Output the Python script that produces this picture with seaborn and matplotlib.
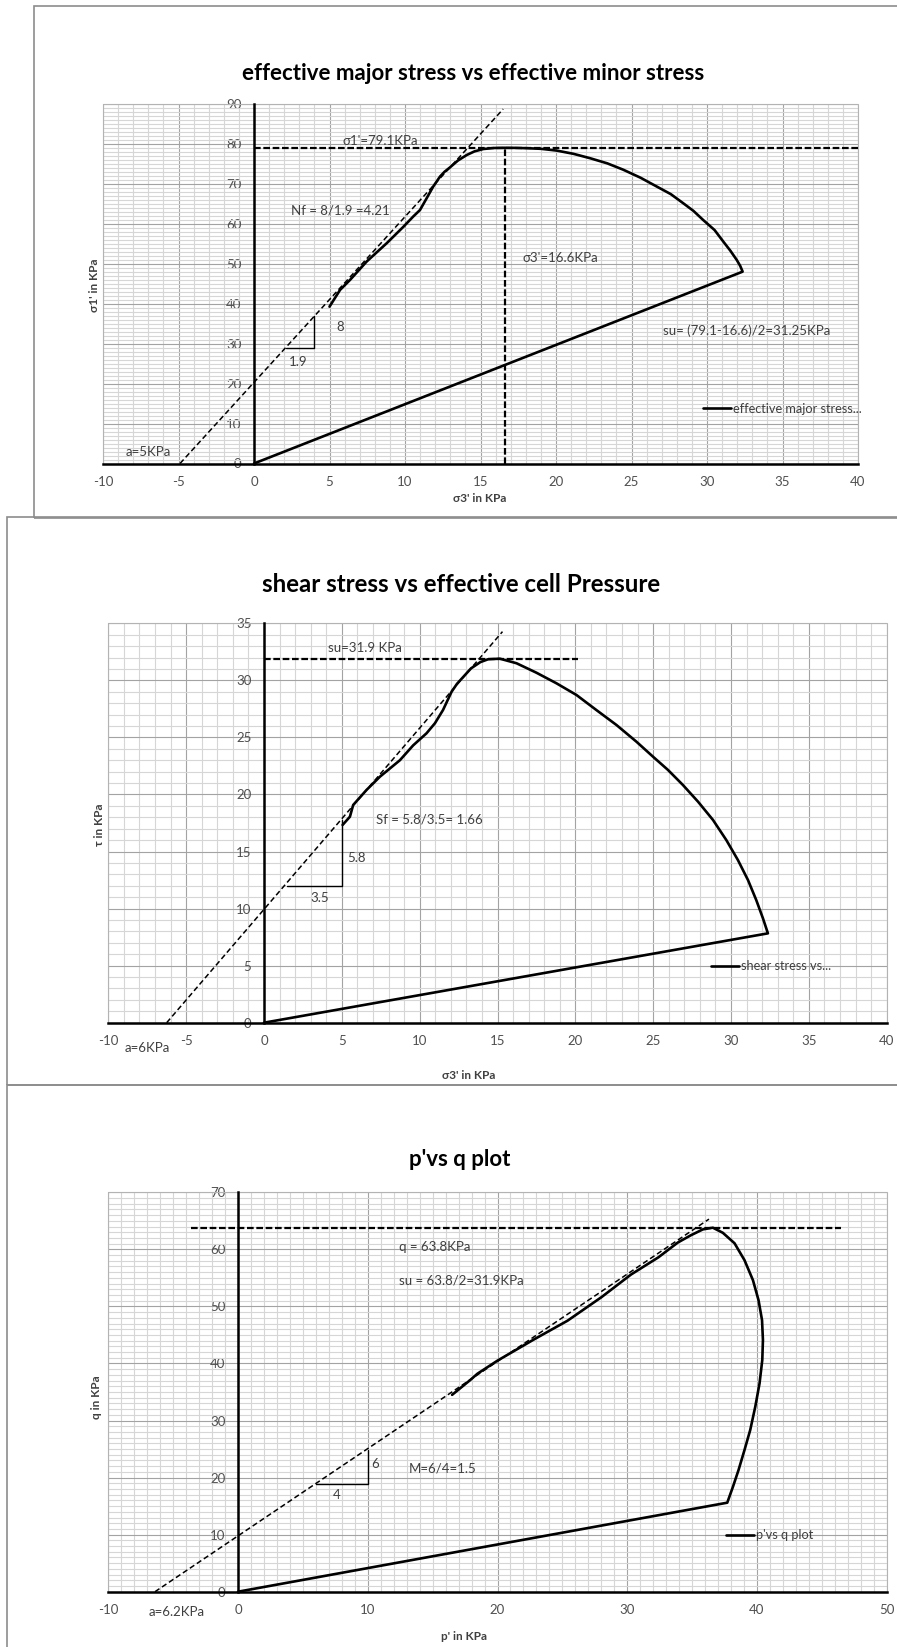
import matplotlib
matplotlib.use("Agg")
import matplotlib.pyplot as plt
from matplotlib.patches import Rectangle
from matplotlib.ticker import MultipleLocator
import seaborn as sns

# ---------------- data ----------------
# Panel 1: effective major stress vs effective minor stress
p1_x = [0, 32.36, 32.2, 31.97, 31.55, 31.08, 30.5, 29.75, 29.1, 28.43, 27.6, 26.67,
        25.6, 24.46, 23.4, 22.25, 21.15, 20.05, 19.0, 18.06, 17.3, 16.6, 15.9, 15.19,
        14.6, 14.09, 13.5, 12.98, 12.62, 12.32, 11.87, 11.44, 10.99, 10.55, 9.89, 8.79,
        7.46, 6.36, 5.7, 5.0]
p1_y = [0, 48.07, 49.5, 51.0, 53.3, 55.6, 58.5, 61.0, 63.3, 65.2, 67.5, 69.4,
        71.6, 73.6, 75.2, 76.5, 77.6, 78.4, 78.85, 79.0, 79.08, 79.1, 79.05, 78.8,
        78.2, 77.3, 75.9, 74.2, 73.1, 71.9, 69.4, 66.5, 63.5, 61.9, 59.3, 55.2,
        50.6, 46.0, 43.5, 39.3]
p1_sigma1_peak = 79.1
p1_sigma3_peak = 16.6
p1_tangent_x = [-4.9, 16.5]
p1_tangent_y = [0, 88.8]
p1_tri_x0, p1_tri_y0, p1_run, p1_rise = 2.1, 29.0, 1.9, 8.0

# Panel 2: shear stress vs effective cell pressure
p2_x = [0, 32.37, 32.05, 31.62, 31.09, 30.44, 29.7, 28.84, 27.88, 26.91, 25.95,
        24.99, 23.92, 22.64, 21.35, 20.07, 18.79, 17.5, 16.22, 15.15, 14.4, 13.9,
        13.3, 12.8, 12.4, 12.05, 11.5, 10.98, 10.44, 9.58, 8.73, 7.45, 6.59, 5.73,
        5.52, 5.05]
p2_y = [0, 7.83, 9.15, 10.75, 12.5, 14.26, 16.0, 17.77, 19.37, 20.83, 22.15,
        23.31, 24.63, 26.09, 27.4, 28.72, 29.74, 30.67, 31.5, 31.9, 31.85, 31.6,
        31.05, 30.3, 29.7, 29.0, 27.4, 26.24, 25.36, 24.3, 23.0, 21.56, 20.4, 19.08,
        18.05, 17.33]
p2_su = 31.9
p2_su_line_end = 20.2
p2_tangent_x = [-6.25, 15.32]
p2_tangent_y = [0, 34.27]
p2_tri_x0, p2_tri_y0, p2_run, p2_rise = 1.5, 12.0, 3.5, 5.8

# Panel 3: p' vs q
p3_x = [0, 37.71, 38.15, 38.58, 39.04, 39.48, 39.87, 40.2, 40.41, 40.46, 40.39,
        40.12, 39.69, 39.04, 38.27, 37.37, 36.6, 35.83, 34.93, 33.9, 32.4, 30.3,
        28.0, 25.4, 22.8, 20.0, 18.45, 17.9, 16.5]
p3_y = [0, 15.6, 18.4, 21.33, 24.84, 28.34, 32.43, 36.53, 40.61, 44.12, 47.6,
        51.1, 54.6, 58.1, 61.07, 62.9, 63.8, 63.5, 62.5, 61.2, 58.6, 55.6,
        51.6, 47.5, 44.2, 40.5, 38.2, 37.1, 34.5]
p3_q = 63.8
p3_q_line = [-3.6, 46.5]
p3_tangent_x = [-6.4, 36.3]
p3_tangent_y = [0, 65.3]
p3_tri_x0, p3_tri_y0, p3_run, p3_rise = 6.0, 18.9, 4.0, 6.0

titles = ["effective major stress vs effective minor stress",
          "shear stress vs effective cell Pressure",
          "p'vs q plot"]
series_labels = ["effective major stress...", "shear stress vs...", "p'vs q plot"]
x_labels = ["σ3' in KPa", "σ3' in KPa", "p' in KPa"]
y_labels = ["σ1' in KPa", "τ in KPa", "q in KPa"]

# ---------------- style ----------------
sns.set_theme(style="white")
plt.rcParams["font.family"] = ["Lato", "DejaVu Sans"]
plt.rcParams["axes.unicode_minus"] = False

W, H = 897, 1647
fig = plt.figure(figsize=(W / 100, H / 100), dpi=100)
fig.patch.set_facecolor("white")

TXT = "#404040"
TICK = "#505050"


def axes_px(left, top, right, bottom):
    return fig.add_axes([left / W, 1 - bottom / H, (right - left) / W, (bottom - top) / H])


def frame_px(x0, y0, x1, y1):
    fig.add_artist(Rectangle((x0 / W, 1 - y1 / H), (x1 - x0) / W, (y1 - y0) / H,
                             transform=fig.transFigure, fill=False,
                             ec="#8c8c8c", lw=1.2, zorder=0))


def style(ax, xlim, ylim, xmaj, ymaj, xlab, ylab, xlab_pos, ylab_pos):
    ax.set_xlim(*xlim)
    ax.set_ylim(*ylim)
    ax.set_facecolor("white")
    ax.xaxis.set_major_locator(MultipleLocator(xmaj))
    ax.xaxis.set_minor_locator(MultipleLocator(1))
    ax.yaxis.set_major_locator(MultipleLocator(ymaj))
    ax.yaxis.set_minor_locator(MultipleLocator(1))
    ax.grid(which="minor", color="#d6d6d6", lw=0.8)
    ax.grid(which="major", color="#a3a3a3", lw=0.8)
    ax.set_axisbelow(True)
    for s in ("top", "right"):
        ax.spines[s].set_visible(False)
    ax.spines["left"].set_position(("data", 0))
    ax.spines["bottom"].set_position(("data", 0))
    for s in ("left", "bottom"):
        ax.spines[s].set_color("black")
        ax.spines[s].set_linewidth(1.8)
        ax.spines[s].set_zorder(3)
    ax.add_patch(Rectangle((0, 0), 1, 1, transform=ax.transAxes, fill=False,
                           ec="#b3b3b3", lw=0.8, zorder=1, clip_on=False))
    ax.tick_params(which="major", direction="out", length=4, width=1.5,
                   color="black", labelsize=9.5, labelcolor=TICK, pad=5)
    ax.tick_params(which="minor", length=0)
    ax.set_xlabel(xlab, fontsize=8.5, fontweight="bold", color=TXT, va="center")
    ax.set_ylabel(ylab, fontsize=8.5, fontweight="bold", color=TXT, va="center")
    ax.xaxis.set_label_coords(*xlab_pos)
    ax.yaxis.set_label_coords(*ylab_pos)


def note(ax, x, y, s, size=9.5):
    ax.text(x, y, s, ha="center", va="center", fontsize=size, color=TXT,
            clip_on=False, zorder=6)


def triangle(ax, x0, y0, run, rise):
    ax.plot([x0, x0 + run, x0 + run], [y0, y0, y0 + rise], color="black",
            lw=1.0, zorder=4)


def curve(ax, xs, ys, label):
    sns.lineplot(x=xs, y=ys, sort=False, estimator=None, color="black",
                 linewidth=1.9, ax=ax, label=label, zorder=5)


def legend(ax, anchor):
    ax.legend(loc="center left", bbox_to_anchor=anchor, frameon=False,
              fontsize=9.2, handlelength=2.2, handletextpad=0.1,
              borderpad=0, borderaxespad=0, labelcolor=TXT)


thick_dash = dict(color="black", lw=1.6, dashes=(3, 1.2), zorder=4)
thin_dash = dict(color="black", lw=1.1, dashes=(3.5, 2), zorder=4)

# panel outlines
frame_px(34, 6, 905, 518)
frame_px(7, 517, 905, 1085)
frame_px(7, 1085, 905, 1660)

# ---------------- panel 1 ----------------
ax1 = axes_px(103, 104.3, 858, 463.5)
style(ax1, (-10, 40), (0, 90), 5, 10, x_labels[0], y_labels[0],
      (0.4993, -0.098), (-0.0113, 0.497))
ax1.plot([0, 40], [p1_sigma1_peak, p1_sigma1_peak], **thick_dash)
ax1.plot([p1_sigma3_peak, p1_sigma3_peak], [0, p1_sigma1_peak], **thick_dash)
ax1.plot(p1_tangent_x, p1_tangent_y, **thin_dash)
triangle(ax1, p1_tri_x0, p1_tri_y0, p1_run, p1_rise)
curve(ax1, p1_x, p1_y, series_labels[0])
legend(ax1, (0.795, 0.152))
note(ax1, 8.35, 80.7, "σ1'=79.1KPa")
note(ax1, 5.75, 63.3, "Nf = 8/1.9 =4.21")
note(ax1, 20.3, 51.6, "σ3'=16.6KPa")
note(ax1, 5.74, 34.1, "8")
note(ax1, 2.94, 25.5, "1.9")
note(ax1, 32.6, 33.3, "su= (79.1-16.6)/2=31.25KPa")
note(ax1, -6.97, 2.96, "a=5KPa")
fig.text(473 / W, 1 - 74 / H, titles[0], ha="center", va="center",
         fontsize=16, fontweight="bold", color="black")

# ---------------- panel 2 ----------------
ax2 = axes_px(108.3, 623.3, 886.7, 1022.7)
style(ax2, (-10, 40), (0, 35), 5, 5, x_labels[1], y_labels[1],
      (0.4634, -0.131), (-0.0113, 0.495))
ax2.plot([0, p2_su_line_end], [p2_su, p2_su], **thick_dash)
ax2.plot(p2_tangent_x, p2_tangent_y, **thin_dash)
triangle(ax2, p2_tri_x0, p2_tri_y0, p2_run, p2_rise)
curve(ax2, p2_x, p2_y, series_labels[1])
legend(ax2, (0.7746, 0.142))
note(ax2, 6.5, 32.8, "su=31.9 KPa")
note(ax2, 10.65, 17.8, "Sf = 5.8/3.5= 1.66")
note(ax2, 5.95, 14.46, "5.8")
note(ax2, 3.6, 10.9, "3.5")
note(ax2, -7.5, -2.25, "a=6KPa")
fig.text(461 / W, 1 - 585 / H, titles[1], ha="center", va="center",
         fontsize=17.4, fontweight="bold", color="black")

# ---------------- panel 3 ----------------
ax3 = axes_px(108.3, 1192.3, 886.7, 1591.7)
style(ax3, (-10, 50), (0, 70), 10, 10, x_labels[2], y_labels[2],
      (0.457, -0.111), (-0.0149, 0.488))
ax3.plot(p3_q_line, [p3_q, p3_q], **thick_dash)
ax3.plot(p3_tangent_x, p3_tangent_y, **thin_dash)
triangle(ax3, p3_tri_x0, p3_tri_y0, p3_run, p3_rise)
curve(ax3, p3_x, p3_y, series_labels[2])
legend(ax3, (0.794, 0.142))
note(ax3, 15.2, 60.5, "q = 63.8KPa")
note(ax3, 17.2, 54.6, "su = 63.8/2=31.9KPa")
note(ax3, 15.75, 21.6, "M=6/4=1.5")
note(ax3, 10.55, 22.4, "6")
note(ax3, 7.6, 17.0, "4")
note(ax3, -4.7, -3.5, "a=6.2KPa")
fig.text(460 / W, 1 - 1160 / H, titles[2], ha="center", va="center",
         fontsize=16, fontweight="bold", color="black")

fig.savefig("out.png", dpi=100, facecolor="white")
